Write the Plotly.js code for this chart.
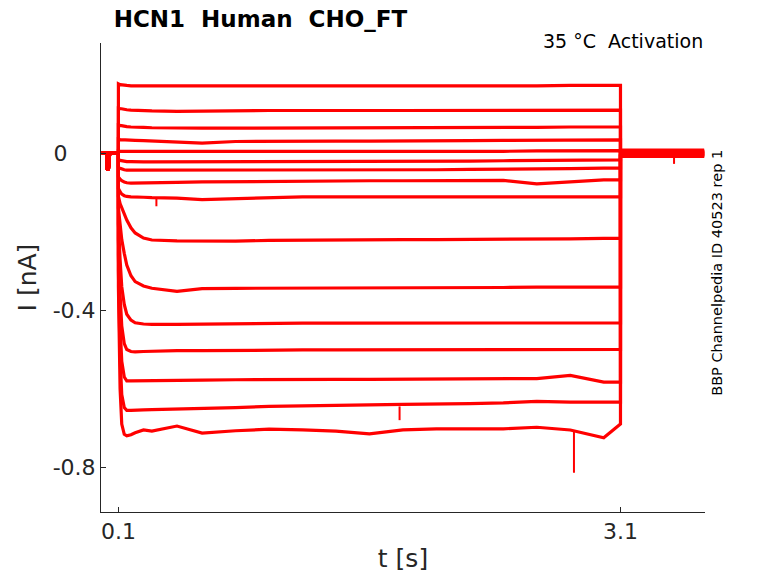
<!DOCTYPE html>
<html>
<head>
<meta charset="utf-8">
<script src="https://cdn.plot.ly/plotly-3.0.1.min.js"></script>
<style>
  body { margin: 0; background: #fff; }
  #myChart { width: 778px; height: 583px; }
</style>
</head>
<body>
<div id="myChart"></div>
<script>
// holding period before the step (same for every sweep)
var holdT = [0, 0.032, 0.034, 0.04, 0.046, 0.048, 0.0999];
var holdI = [0.001, 0.001, -0.040, -0.042, -0.010, 0.001, 0.001];

// test pulse, 0.1 s .. 3.1 s
var stepT = [0.1, 0.11, 0.12, 0.135, 0.15, 0.175, 0.2, 0.25, 0.3, 0.45, 0.6, 0.8,
             1.0, 1.2, 1.4, 1.6, 1.8, 2.0, 2.2, 2.4, 2.6, 2.8, 3.0, 3.1];

var sweep01 = [0.177, 0.175, 0.174, 0.173, 0.173, 0.172, 0.172, 0.172, 0.171, 0.171, 0.172, 0.171,
               0.170, 0.171, 0.172, 0.171, 0.171, 0.172, 0.172, 0.171, 0.172, 0.173, 0.173, 0.173];
var sweep02 = [0.115, 0.114, 0.113, 0.112, 0.111, 0.110, 0.110, 0.109, 0.108, 0.107, 0.108, 0.108,
               0.109, 0.109, 0.108, 0.109, 0.109, 0.109, 0.110, 0.109, 0.110, 0.110, 0.110, 0.110];
var sweep03 = [0.072, 0.071, 0.070, 0.069, 0.068, 0.067, 0.066, 0.066, 0.065, 0.064, 0.064, 0.064,
               0.064, 0.064, 0.065, 0.064, 0.065, 0.065, 0.066, 0.066, 0.066, 0.067, 0.067, 0.067];
var sweep04 = [0.036, 0.035, 0.035, 0.034, 0.034, 0.033, 0.033, 0.032, 0.031, 0.028, 0.026, 0.030,
               0.031, 0.031, 0.031, 0.031, 0.032, 0.032, 0.032, 0.033, 0.033, 0.033, 0.034, 0.034];
var sweep05 = [0.006, 0.005, 0.005, 0.004, 0.004, 0.004, 0.004, 0.004, 0.004, 0.003, 0.004, 0.004,
               0.004, 0.004, 0.004, 0.004, 0.005, 0.005, 0.005, 0.005, 0.006, 0.006, 0.007, 0.007];
var sweep06 = [-0.016, -0.018, -0.019, -0.020, -0.021, -0.021, -0.022, -0.022, -0.022, -0.022, -0.022, -0.021,
               -0.021, -0.021, -0.021, -0.021, -0.020, -0.020, -0.020, -0.019, -0.019, -0.018, -0.017, -0.017];
var sweep07 = [-0.035, -0.038, -0.040, -0.042, -0.043, -0.043, -0.044, -0.044, -0.044, -0.044, -0.043, -0.043,
               -0.043, -0.043, -0.043, -0.042, -0.042, -0.042, -0.041, -0.041, -0.040, -0.039, -0.038, -0.038];
var sweep08 = [-0.060, -0.066, -0.070, -0.073, -0.075, -0.076, -0.076, -0.076, -0.075, -0.074, -0.073, -0.072,
               -0.071, -0.071, -0.071, -0.070, -0.070, -0.070, -0.070, -0.069, -0.078, -0.072, -0.068, -0.068];
var sweep09 = [-0.090, -0.098, -0.104, -0.108, -0.110, -0.111, -0.112, -0.112, -0.113, -0.114, -0.118, -0.116,
               -0.112, -0.111, -0.111, -0.111, -0.111, -0.111, -0.111, -0.110, -0.110, -0.111, -0.111, -0.111];
var sweep10 = [-0.110, -0.128, -0.140, -0.156, -0.170, -0.190, -0.203, -0.216, -0.221, -0.223, -0.224, -0.224,
               -0.222, -0.221, -0.221, -0.221, -0.220, -0.220, -0.220, -0.219, -0.219, -0.218, -0.217, -0.217];
var sweep11 = [-0.140, -0.180, -0.220, -0.255, -0.285, -0.312, -0.327, -0.338, -0.344, -0.352, -0.345, -0.344,
               -0.344, -0.344, -0.343, -0.343, -0.343, -0.342, -0.342, -0.342, -0.341, -0.341, -0.341, -0.341];
var sweep12 = [-0.180, -0.270, -0.340, -0.385, -0.410, -0.425, -0.432, -0.435, -0.436, -0.436, -0.435, -0.434,
               -0.433, -0.433, -0.433, -0.433, -0.433, -0.433, -0.432, -0.433, -0.432, -0.432, -0.432, -0.432];
var sweep13 = [-0.220, -0.360, -0.440, -0.485, -0.500, -0.505, -0.506, -0.505, -0.504, -0.503, -0.503, -0.502,
               -0.501, -0.501, -0.501, -0.501, -0.500, -0.500, -0.500, -0.500, -0.500, -0.500, -0.500, -0.500];
var sweep14 = [-0.260, -0.440, -0.530, -0.570, -0.580, -0.580, -0.580, -0.580, -0.579, -0.578, -0.578, -0.577,
               -0.576, -0.576, -0.576, -0.576, -0.576, -0.576, -0.575, -0.575, -0.574, -0.566, -0.583, -0.583];
var sweep15 = [-0.300, -0.520, -0.615, -0.648, -0.655, -0.655, -0.654, -0.654, -0.653, -0.652, -0.650, -0.648,
               -0.645, -0.643, -0.641, -0.641, -0.640, -0.640, -0.638, -0.636, -0.632, -0.634, -0.634, -0.634];
var sweep16 = [-0.340, -0.600, -0.690, -0.716, -0.720, -0.717, -0.712, -0.705, -0.708, -0.695, -0.713, -0.707,
               -0.703, -0.705, -0.708, -0.715, -0.705, -0.702, -0.702, -0.702, -0.698, -0.705, -0.725, -0.690];

// back to holding after the pulse
var tailT = [3.1, 3.6];
var tailI = [0.008, 0.006, 0.005, 0.004, 0.003, 0.002, 0.001, 0.000,
             -0.001, -0.002, -0.003, -0.004, -0.005, -0.006, -0.007, -0.008];

// single-sample glitches seen in the record
var spikeT = [0.327, 1.78, 2.822, 3.42];
var spikeFrom = [-0.112, -0.645, -0.705, -0.003];
var spikeTo = [-0.135, -0.680, -0.814, -0.027];

var sweeps = [sweep01, sweep02, sweep03, sweep04, sweep05, sweep06, sweep07, sweep08,
              sweep09, sweep10, sweep11, sweep12, sweep13, sweep14, sweep15, sweep16];

var red = '#ff0000';
var axisColor = '#262626';
var data = [];

for (var i = 0; i < sweeps.length; i++) {
    var x = holdT.concat(stepT, tailT);
    var y = holdI.concat(sweeps[i], [tailI[i], tailI[i]]);
    data.push({
        x: x,
        y: y,
        type: 'scatter',
        mode: 'lines',
        line: {color: red, width: 3.2},
        hoverinfo: 'skip'
    });
}

var sx = [], sy = [];
for (var j = 0; j < spikeT.length; j++) {
    sx.push(spikeT[j], spikeT[j], null);
    sy.push(spikeFrom[j], spikeTo[j], null);
}
data.push({
    x: sx, y: sy, type: 'scatter', mode: 'lines',
    line: {color: red, width: 2}, hoverinfo: 'skip'
});

var layout = {
    width: 778,
    height: 583,
    showlegend: false,
    paper_bgcolor: '#fff',
    plot_bgcolor: '#fff',
    margin: {l: 101, r: 73, t: 43, b: 71},
    font: {family: 'DejaVu Sans', color: axisColor},
    title: {
        text: '<b>HCN1  Human  CHO_FT</b>',
        font: {family: 'DejaVu Sans', size: 23, color: '#000'},
        xref: 'paper', x: 0.021, xanchor: 'left',
        yref: 'container', y: 0.968, yanchor: 'middle'
    },
    xaxis: {
        range: [-0.004, 3.605],
        tickvals: [0.1, 3.1],
        ticktext: ['0.1', '3.1'],
        ticks: 'inside', ticklen: 5, tickcolor: axisColor,
        showline: true, linecolor: axisColor, linewidth: 1,
        showgrid: false, zeroline: false,
        tickfont: {size: 22, color: axisColor},
        title: {text: 't [s]', font: {size: 25, color: axisColor}, standoff: 6}
    },
    yaxis: {
        range: [-0.914, 0.281],
        tickvals: [0, -0.4, -0.8],
        ticktext: ['0\u2007\u2007', '-0.4', '-0.8'],
        ticks: 'inside', ticklen: 5, tickcolor: axisColor,
        showline: true, linecolor: axisColor, linewidth: 1,
        showgrid: false, zeroline: false,
        tickfont: {size: 22, color: axisColor},
        title: {text: 'I [nA]', font: {size: 25, color: axisColor}, standoff: 8}
    },
    annotations: [
        {
            text: '35 \u00b0C  Activation',
            xref: 'paper', yref: 'paper', x: 1, y: 1,
            xanchor: 'right', yanchor: 'top', yshift: 15,
            showarrow: false,
            font: {family: 'DejaVu Sans', size: 19, color: '#000'}
        },
        {
            text: 'BBP Channelpedia ID 40523 rep 1',
            xref: 'paper', yref: 'paper', x: 1, y: 0.51,
            xanchor: 'center', yanchor: 'middle', xshift: 12,
            textangle: -90,
            showarrow: false,
            font: {family: 'DejaVu Sans', size: 14.5, color: '#000'}
        }
    ]
};

Plotly.newPlot('myChart', data, layout, {staticPlot: true, displayModeBar: false});
</script>
</body>
</html>
